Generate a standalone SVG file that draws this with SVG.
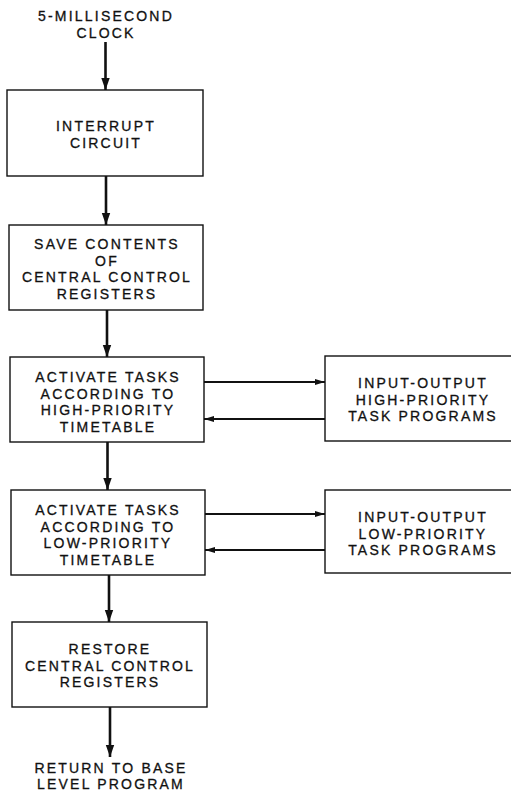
<svg xmlns="http://www.w3.org/2000/svg" width="511" height="792" viewBox="0 0 511 792">
<style>
.box{fill:#fff;stroke:#111;stroke-width:1.4}
.t{font-family:"Liberation Sans",Arial,sans-serif;font-size:14px;letter-spacing:2.2px;fill:#111;stroke:#111;stroke-width:0.3;text-anchor:middle}
.v{stroke:#111;stroke-width:2.6;fill:none}
.h{stroke:#111;stroke-width:2;fill:none}
</style>
<defs>
<marker id="av" markerUnits="userSpaceOnUse" markerWidth="12" markerHeight="10" viewBox="0 0 12 10" refX="12" refY="5" orient="auto">
<path d="M0,0.8 L12,5 L0,9.2 Z" fill="#111"/>
</marker>
<marker id="ah" markerUnits="userSpaceOnUse" markerWidth="10" markerHeight="8" viewBox="0 0 10 8" refX="10" refY="4" orient="auto">
<path d="M0,1 L10,4 L0,7 Z" fill="#111"/>
</marker>
</defs>
<rect width="511" height="792" fill="#fff"/>

<g id="connectors">
<line class="v" x1="105.5" y1="42" x2="105.5" y2="90" marker-end="url(#av)"/>
<line class="v" x1="106" y1="176" x2="106" y2="225" marker-end="url(#av)"/>
<line class="v" x1="107" y1="310" x2="107" y2="357" marker-end="url(#av)"/>
<line class="v" x1="107.5" y1="442" x2="107.5" y2="490" marker-end="url(#av)"/>
<line class="v" x1="109" y1="575" x2="109" y2="622" marker-end="url(#av)"/>
<line class="v" x1="110" y1="707" x2="110" y2="757" marker-end="url(#av)"/>
<line class="h" x1="204" y1="382" x2="325" y2="382" marker-end="url(#ah)"/>
<line class="h" x1="325" y1="419" x2="204" y2="419" marker-end="url(#ah)"/>
<line class="h" x1="205" y1="514" x2="325" y2="514" marker-end="url(#ah)"/>
<line class="h" x1="325" y1="550" x2="205" y2="550" marker-end="url(#ah)"/>
</g>

<g id="clock">
<text class="t" x="106" y="21">5-MILLISECOND</text>
<text class="t" x="106" y="37.5">CLOCK</text>
</g>

<g id="interrupt">
<rect class="box" x="7" y="90" width="196" height="86"/>
<text class="t" x="106" y="131">INTERRUPT</text>
<text class="t" x="106" y="148">CIRCUIT</text>
</g>

<g id="save">
<rect class="box" x="9" y="225" width="194" height="85"/>
<text class="t" x="107" y="249">SAVE CONTENTS</text>
<text class="t" x="107" y="265.5">OF</text>
<text class="t" x="107" y="282">CENTRAL CONTROL</text>
<text class="t" x="107" y="298.5">REGISTERS</text>
</g>

<g id="activate-high">
<rect class="box" x="10" y="357" width="194" height="85"/>
<text class="t" x="108" y="382">ACTIVATE TASKS</text>
<text class="t" x="108" y="398.5">ACCORDING TO</text>
<text class="t" x="108" y="415">HIGH-PRIORITY</text>
<text class="t" x="108" y="431.5">TIMETABLE</text>
</g>

<g id="io-high">
<rect class="box" x="325" y="356" width="195" height="85"/>
<text class="t" x="423" y="388">INPUT-OUTPUT</text>
<text class="t" x="423" y="404.5">HIGH-PRIORITY</text>
<text class="t" x="423" y="421">TASK PROGRAMS</text>
</g>

<g id="activate-low">
<rect class="box" x="11" y="490" width="194" height="85"/>
<text class="t" x="108" y="515">ACTIVATE TASKS</text>
<text class="t" x="108" y="531.5">ACCORDING TO</text>
<text class="t" x="108" y="548">LOW-PRIORITY</text>
<text class="t" x="108" y="564.5">TIMETABLE</text>
</g>

<g id="io-low">
<rect class="box" x="325" y="490" width="195" height="83"/>
<text class="t" x="423" y="522">INPUT-OUTPUT</text>
<text class="t" x="423" y="538.5">LOW-PRIORITY</text>
<text class="t" x="423" y="555">TASK PROGRAMS</text>
</g>

<g id="restore">
<rect class="box" x="12" y="622" width="195" height="85"/>
<text class="t" x="110" y="654">RESTORE</text>
<text class="t" x="110" y="670.5">CENTRAL CONTROL</text>
<text class="t" x="110" y="687">REGISTERS</text>
</g>

<g id="return">
<text class="t" x="111" y="772.5">RETURN TO BASE</text>
<text class="t" x="111" y="789">LEVEL PROGRAM</text>
</g>
</svg>
